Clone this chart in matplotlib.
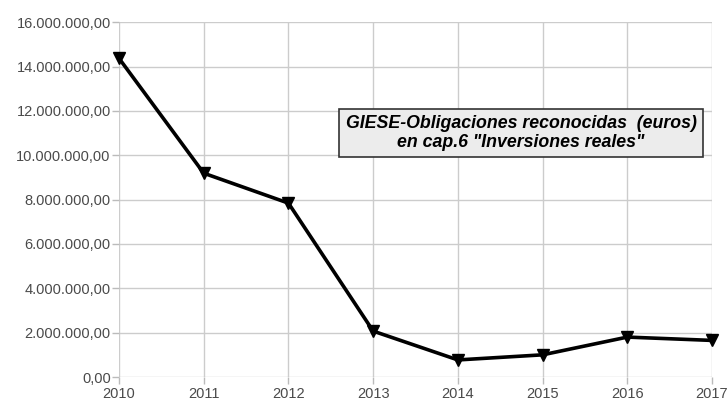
import matplotlib
matplotlib.use("Agg")
import matplotlib.pyplot as plt
from matplotlib.ticker import FuncFormatter

years = [2010, 2011, 2012, 2013, 2014, 2015, 2016, 2017]
values = [14370000, 9190000, 7840000, 2070000, 770000, 1000000, 1800000, 1650000]
yticks = [0, 2000000, 4000000, 6000000, 8000000, 10000000, 12000000, 14000000, 16000000]
title_text = 'GIESE-Obligaciones reconocidas  (euros)\nen cap.6 "Inversiones reales"'

plt.rcParams['font.family'] = ['Liberation Sans', 'DejaVu Sans']

fig = plt.figure(figsize=(7.27, 4.03), dpi=100)
ax = fig.add_axes([0.1637, 0.0645, 0.8157, 0.8805])

ax.plot(years, values, color='black', linewidth=2.6, marker='v', markersize=8.5,
        markerfacecolor='black', markeredgecolor='black', zorder=3, clip_on=False)

ax.set_xlim(2010, 2017)
ax.set_ylim(0, 16000000)
ax.set_xticks(years)
ax.set_yticks(yticks)

def fmt(v, pos):
    s = f"{int(round(v)):,}".replace(",", ".")
    return s + ",00"
ax.yaxis.set_major_formatter(FuncFormatter(fmt))

ax.grid(True, color='#cccccc', linewidth=1.0)
ax.set_axisbelow(True)
for s in ax.spines.values():
    s.set_visible(False)
ax.tick_params(axis='both', colors='#bbbbbb', labelcolor='#4a4a4a', labelsize=10.5, length=5, width=1)
ax.tick_params(axis='x', pad=2.5)
ax.tick_params(axis='y', pad=1)

ax.text(0.678, 0.687, title_text, transform=ax.transAxes, ha='center', va='center',
        fontsize=12.8, fontweight='bold', fontstyle='italic', color='black', linespacing=1.15,
        bbox=dict(boxstyle='square,pad=0.35', facecolor='#ececec', edgecolor='#333333', linewidth=1.2))

fig.savefig('out.png', dpi=100)
